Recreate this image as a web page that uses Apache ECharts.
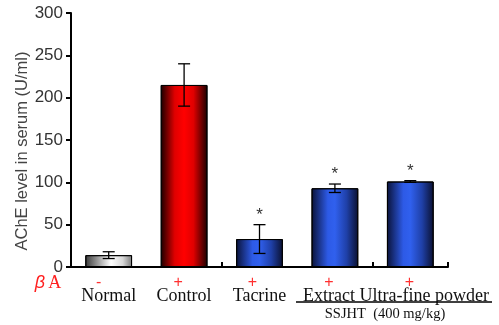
<!DOCTYPE html>
<html><head><meta charset="utf-8">
<script src="https://cdn.jsdelivr.net/npm/echarts@6/dist/echarts.min.js"></script>
<style>html,body{margin:0;padding:0;background:#fff}#c{width:499px;height:325px}</style>
</head><body><div id="c"></div>
<script>
var categories = ['Normal', 'Control', 'Tacrine', 'Extract', 'Ultra-fine powder'];
var betaSigns = ['-', '+', '+', '+', '+'];
var means = [14, 215, 33, 93, 101];
var errors = [4, 25, 17, 5, 1];
var significant = [false, false, true, true, true];
var yTicks = [0, 50, 100, 150, 200, 250, 300];

var G = echarts.graphic.LinearGradient;
function grad(stops){ return new G(0,0,1,0, stops.map(function(s){return {offset:s[0], color:s[1]};})); }
var grey = grad([[0,'#3a3a3a'],[0.55,'#ffffff'],[0.8,'#d8d8d8'],[1,'#7a7a7a']]);
var red = grad([[0,'#1a0000'],[0.3,'#e00000'],[0.5,'#ff0000'],[0.7,'#e00000'],[1,'#1a0000']]);
var blue = grad([[0,'#0a1238'],[0.35,'#2d5ae6'],[0.5,'#3060ee'],[0.75,'#1f40a8'],[1,'#0a1030']]);
var fills = [grey, red, blue, blue, blue];

var chart = echarts.init(document.getElementById('c'), null, {renderer:'canvas'});
var serif = '"Liberation Serif","Times New Roman",serif';
var sans = '"Liberation Sans",Arial,Helvetica,sans-serif';

chart.setOption({
  animation:false,
  backgroundColor:'#fff',
  grid:{left:71, right:51, top:13, bottom:58, containLabel:false},
  xAxis:{type:'category', data:categories,
    axisLine:{lineStyle:{color:'#000', width:2}},
    axisTick:{show:true, inside:true, length:5, lineStyle:{color:'#000', width:2}},
    axisLabel:{show:false}},
  yAxis:{type:'value', min:yTicks[0], max:yTicks[yTicks.length-1], interval:50,
    axisLine:{show:true, lineStyle:{color:'#000', width:2}},
    axisTick:{show:true, length:5, lineStyle:{color:'#000', width:2}},
    axisLabel:{fontFamily:sans, fontSize:17, color:'#333', margin:8},
    splitLine:{show:false}},
  series:[
    {type:'bar', barWidth:'62%',
     data: means.map(function(v,i){return {value:v, itemStyle:{color:fills[i], borderColor:'#000', borderWidth:1}};})},
    {type:'custom', z:5,
     data: means.map(function(v,i){return [i, v, errors[i], significant[i]?1:0];}),
     renderItem:function(params, api){
       var x = api.value(0), m = api.value(1), e = api.value(2);
       var top = api.coord([x, m+e]), bot = api.coord([x, m-e]);
       var hw = 6;
       var st = {stroke:'#000', lineWidth:1.3};
       var ch = [
         {type:'line', shape:{x1:top[0], y1:top[1], x2:bot[0], y2:bot[1]}, style:st},
         {type:'line', shape:{x1:top[0]-hw, y1:top[1], x2:top[0]+hw, y2:top[1]}, style:st},
         {type:'line', shape:{x1:bot[0]-hw, y1:bot[1], x2:bot[0]+hw, y2:bot[1]}, style:st}
       ];
       if (api.value(3)) {
         ch.push({type:'text', style:{text:'*', x:top[0], y:top[1]-1, align:'center', verticalAlign:'bottom',
           font:'17px '+sans, fill:'#333'}});
       }
       return {type:'group', children:ch};
     }}
  ]
});

var g = [];
var nameOffsets = [0, 0, 0, -6, 14];
var signOffsets = [-10, -6, -7, -6, -1];
categories.forEach(function(c, i){
  var p = chart.convertToPixel({xAxisIndex:0, yAxisIndex:0}, [i, 0]);
  g.push({type:'text', x:p[0]+signOffsets[i], y:283, style:{text:betaSigns[i], align:'center', verticalAlign:'middle',
    font:'16px '+sans, fill:'#ff3030'}});
  g.push({type:'text', x:p[0]+nameOffsets[i], y:296, style:{text:c, align:'center', verticalAlign:'middle',
    font:'18px '+serif, fill:'#111'}});
});
g.push({type:'text', x:48, y:283, style:{text:'{b|β} {a|A}', align:'center', verticalAlign:'middle',
  rich:{b:{font:'italic 18px '+sans, fill:'#ff2020'}, a:{font:'18px '+serif, fill:'#ff2020'}}}});
g.push({type:'line', shape:{x1:296, y1:302, x2:492, y2:302}, style:{stroke:'#000', lineWidth:1.5}});
g.push({type:'text', x:385, y:314, style:{text:'SSJHT  (400 mg/kg)', align:'center', verticalAlign:'middle',
  font:'14.5px '+serif, fill:'#111'}});
g.push({type:'text', x:22, y:151, rotation:Math.PI/2, style:{text:'AChE level in serum (U/ml)', align:'center', verticalAlign:'middle',
  font:'16.5px '+sans, fill:'#444'}});
chart.setOption({graphic:g});
</script></body></html>
